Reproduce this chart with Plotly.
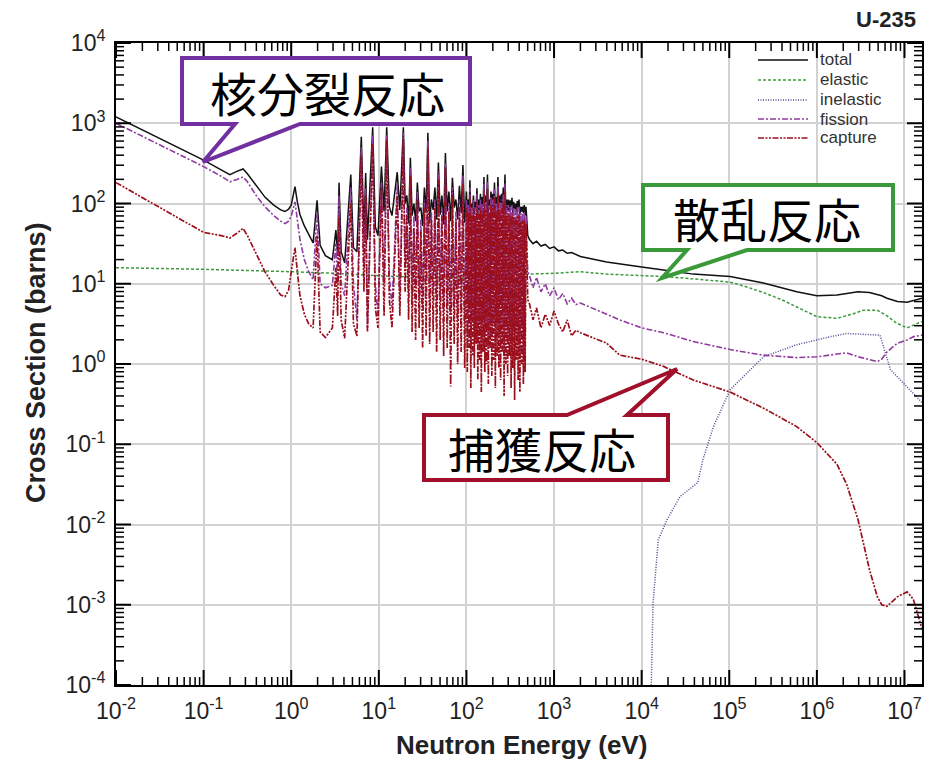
import math
import plotly.graph_objects as go

# ---------------- data ----------------
# energies as log10(E / eV), cross sections as log10(sigma / barns)
main_energy_log10 = [
    -2.00, -1.50, -1.00, -0.80, -0.70, -0.62, -0.55, -0.50, -0.40, -0.30,
    -0.20, -0.12, -0.07, -0.03, 0.00, 0.043, 0.07, 0.10, 0.15, 0.20,
    0.25, 0.295, 0.33, 0.39, 0.47, 0.51, 0.53, 0.546, 0.57, 0.61,
    0.68, 0.71, 0.75, 0.80, 0.83, 0.85, 0.87, 0.93, 0.96, 0.99,
    1.03, 1.06, 1.09, 1.12, 1.15, 1.21, 1.24, 1.28, 1.30,
    1.32, 1.34, 1.36, 1.38, 1.40, 1.42, 1.44, 1.46, 1.48, 1.50,
    1.52, 1.54, 1.56, 1.58, 1.60, 1.62, 1.64, 1.66, 1.68, 1.70,
    1.72, 1.74, 1.76, 1.78, 1.80, 1.82, 1.84, 1.86, 1.88, 1.90,
    1.92, 1.94, 1.96, 1.98,
    2.00, 2.01, 2.02, 2.03, 2.04, 2.05, 2.06, 2.07, 2.08, 2.09,
    2.10, 2.11, 2.12, 2.13, 2.14, 2.15, 2.16, 2.17, 2.18, 2.19,
    2.20, 2.21, 2.22, 2.23, 2.24, 2.25, 2.26, 2.27, 2.28, 2.29,
    2.30, 2.31, 2.32, 2.33, 2.34, 2.35, 2.36, 2.37, 2.38, 2.39,
    2.40, 2.41, 2.42, 2.43, 2.44, 2.45, 2.46, 2.47, 2.48, 2.49,
    2.50, 2.51, 2.52, 2.53, 2.54, 2.55, 2.56, 2.57, 2.58, 2.59,
    2.60, 2.61, 2.62, 2.63, 2.64, 2.65, 2.66, 2.67, 2.68,
    2.70, 2.72, 2.76, 2.80, 2.85, 2.90, 2.95, 3.00, 3.05, 3.10,
    3.15, 3.20, 3.25, 3.30, 3.60, 3.75, 4.00, 4.25, 4.59, 5.01,
    5.39, 5.77, 6.00, 6.23, 6.34, 6.47, 6.60, 6.69, 6.74, 6.80,
    6.92, 7.03, 7.10, 7.20,
]

total_log10 = [
    3.08, 2.81, 2.54, 2.42, 2.36, 2.40, 2.43, 2.37, 2.22, 2.08,
    1.98, 1.92, 1.90, 1.93, 1.98, 2.21, 2.02, 1.86, 1.72, 1.62,
    1.51, 2.04, 1.48, 1.35, 1.30, 1.67, 1.35, 2.26, 1.40, 1.26,
    2.36, 1.45, 1.40, 2.83, 1.63, 2.38, 1.55, 2.95, 1.71, 1.60,
    2.46, 1.90, 2.95, 1.96, 1.85, 2.39, 1.92, 2.95, 2.00,
    2.10, 1.75, 2.57, 1.85, 2.00, 1.78, 2.26, 1.90, 1.95, 1.72,
    2.20, 1.88, 2.88, 1.75, 2.05, 1.92, 2.20, 1.80, 2.51, 1.86,
    2.10, 1.74, 2.63, 1.90, 2.15, 1.78, 2.32, 1.95, 2.05, 1.80,
    2.22, 1.88, 2.48, 1.76,
    2.15, 1.85, 2.05, 1.90, 2.29, 1.82, 2.00, 1.93, 2.10, 1.86,
    2.02, 1.95, 2.19, 1.84, 2.05, 1.92, 2.12, 1.88, 2.08, 1.96,
    2.33, 1.85, 2.10, 1.94, 2.36, 1.87, 2.05, 1.97, 2.15, 1.86,
    2.12, 1.93, 2.26, 1.89, 2.08, 1.98, 2.33, 1.85, 2.10, 1.95,
    2.12, 1.88, 2.20, 1.97, 2.36, 1.86, 2.05, 1.92, 2.05, 1.90,
    2.04, 1.96, 2.07, 1.87, 2.02, 1.93, 2.00, 1.89, 2.03, 1.95,
    2.05, 1.86, 1.96, 1.90, 1.96, 1.88, 1.98, 1.85, 1.96,
    1.60, 1.55, 1.50, 1.53, 1.47, 1.49, 1.44, 1.46, 1.41, 1.42,
    1.38, 1.39, 1.36, 1.34, 1.27, 1.25, 1.21, 1.17, 1.12, 1.09,
    1.01, 0.90, 0.85, 0.86, 0.88, 0.90, 0.89, 0.87, 0.85, 0.82,
    0.78, 0.77, 0.79, 0.82,
]

fission_log10 = [
    3.00, 2.73, 2.46, 2.34, 2.27, 2.30, 2.33, 2.27, 2.10, 1.96,
    1.85, 1.78, 1.75, 1.78, 1.84, 2.02, 1.80, 1.55, 1.30, 1.15,
    1.05, 1.90, 1.00, 0.95, 0.98, 1.50, 1.00, 2.10, 1.00, 0.85,
    2.20, 1.00, 0.55, 2.70, 1.20, 2.20, 0.45, 2.85, 1.00, 0.60,
    2.30, 1.00, 2.85, 1.10, 0.70, 2.25, 0.80, 2.88, 1.20,
    1.95, 0.90, 2.45, 0.75, 1.85, 0.95, 2.15, 0.80, 1.80, 0.70,
    2.05, 0.85, 2.78, 0.75, 1.90, 0.90, 2.05, 0.70, 2.40, 0.80,
    1.95, 0.65, 2.50, 0.75, 2.00, 0.60, 2.20, 0.70, 1.90, 0.55,
    2.05, 0.65, 2.35, 0.50,
    2.05, 0.35, 1.98, 0.65, 2.20, 0.20, 1.95, 0.55, 2.05, 0.40,
    1.95, 0.70, 2.12, 0.25, 1.98, 0.50, 2.05, 0.15, 2.00, 0.60,
    2.25, 0.35, 2.02, 0.45, 2.28, 0.20, 1.98, 0.65, 2.08, 0.30,
    2.05, 0.50, 2.18, 0.15, 2.00, 0.55, 2.22, 0.40, 2.02, 0.25,
    2.05, 0.60, 2.12, 0.10, 2.25, 0.45, 1.98, 0.30, 1.98, 0.55,
    1.95, 0.15, 1.98, 0.40, 1.94, 0.05, 1.92, 0.50, 1.95, 0.25,
    1.96, 0.10, 1.88, 0.45, 1.88, 0.20, 1.90, 0.35, 1.85,
    1.15, 1.10, 0.95, 1.08, 0.90, 1.00, 0.85, 0.95, 0.80, 0.88,
    0.75, 0.82, 0.74, 0.76, 0.62, 0.55, 0.45, 0.39, 0.28, 0.18,
    0.11, 0.08, 0.09, 0.12, 0.14, 0.09, 0.05, 0.03, 0.06, 0.15,
    0.26, 0.30, 0.34, 0.36,
]

capture_log10 = [
    2.26, 1.95, 1.64, 1.60, 1.57, 1.63, 1.69, 1.60, 1.38, 1.15,
    0.98, 0.86, 0.84, 0.92, 1.15, 1.45, 1.15, 0.85, 0.62, 0.50,
    0.45, 1.60, 0.40, 0.33, 0.45, 1.20, 0.60, 1.85, 0.55, 0.32,
    2.00, 0.50, 0.35, 2.60, 0.90, 2.10, 0.40, 2.75, 0.70, 0.45,
    2.20, 0.60, 2.80, 0.80, 0.45, 2.10, 0.60, 2.80, 0.90,
    1.85, 0.55, 2.35, 0.40, 1.70, 0.30, 2.05, 0.45, 1.65, 0.20,
    1.95, 0.35, 2.70, 0.25, 1.80, 0.40, 1.95, 0.15, 2.30, 0.30,
    1.85, 0.10, 2.45, 0.20, 1.90, -0.28, 2.10, 0.25, 1.80, 0.00,
    1.95, 0.15, 2.25, -0.05,
    1.95, -0.10, 1.88, 0.20, 2.10, -0.30, 1.85, 0.10, 1.95, -0.05,
    1.85, 0.25, 2.02, -0.20, 1.88, 0.05, 1.95, -0.35, 1.90, 0.15,
    2.15, -0.10, 1.92, 0.00, 2.18, -0.25, 1.88, 0.20, 1.98, -0.15,
    1.95, 0.05, 2.08, -0.30, 1.90, 0.10, 2.12, -0.05, 1.92, -0.20,
    1.95, 0.15, 2.02, -0.40, 2.15, 0.00, 1.88, -0.15, 1.88, 0.10,
    1.85, -0.30, 1.88, -0.05, 1.84, -0.45, 1.82, 0.05, 1.85, -0.20,
    1.86, -0.35, 1.78, 0.00, 1.78, -0.25, 1.80, -0.10, 1.75,
    0.80, 0.75, 0.55, 0.70, 0.45, 0.62, 0.48, 0.66, 0.50, 0.40,
    0.55, 0.35, 0.42, 0.39, 0.26, 0.11, 0.06, -0.03, -0.20, -0.35,
    -0.55, -0.78, -0.98, -1.25, -1.50, -1.94, -2.56, -2.90, -3.00, -3.02,
    -2.90, -2.84, -2.93, -3.30,
]

elastic_energy_log10 = [
    -2.00, -1.00, 0.00, 0.50, 1.00, 1.50, 2.00, 2.69, 3.00, 3.30,
    3.60, 4.00, 4.25, 4.60, 5.01, 5.20, 5.39, 5.60, 5.77, 6.00,
    6.23, 6.40, 6.53, 6.69, 6.80, 6.91, 7.03, 7.20,
]
elastic_log10 = [
    1.20, 1.18, 1.15, 1.13, 1.10, 1.08, 1.07, 1.12, 1.13, 1.15,
    1.12, 1.10, 1.09, 1.06, 1.02, 0.96, 0.89, 0.80, 0.71, 0.59,
    0.57, 0.62, 0.67, 0.67, 0.60, 0.51, 0.45, 0.53,
]

inelastic_energy_log10 = [
    4.09, 4.13, 4.19, 4.29, 4.44, 4.64, 4.70, 4.82, 5.01, 5.39,
    5.77, 6.15, 6.34, 6.72, 6.84, 7.03, 7.20,
]
inelastic_log10 = [
    -5.00, -2.98, -2.19, -1.94, -1.65, -1.48, -1.19, -0.78, -0.32, 0.09,
    0.24, 0.34, 0.38, 0.36, -0.07, -0.28, -0.48,
]

series_names = ["total", "elastic", "inelastic", "fission", "capture"]
x_tick_exponents = [-2, -1, 0, 1, 2, 3, 4, 5, 6, 7]
y_tick_exponents = [-4, -3, -2, -1, 0, 1, 2, 3, 4]

callout_labels = ["核分裂反応", "散乱反応", "捕獲反応"]

assert len(main_energy_log10) == len(total_log10) == len(fission_log10) == len(capture_log10)

# ---------------- figure ----------------
W, H = 926, 773
ML, MR, MT, MB = 116, 4, 43, 88
PW, PH = W - ML - MR, H - MT - MB
FONT = "Liberation Sans, Arial, sans-serif"
X_RANGE = [-2, 7.2]
Y_RANGE = [-4, 4]


def pp(px, py):
    """pixel -> paper coordinates"""
    return (px - ML) / PW, (H - MB - py) / PH


def pw(v):
    return [10 ** e for e in v]


styles = {
    "total": dict(color="#111111", width=1.5, dash="solid"),
    "elastic": dict(color="#3c9a3c", width=1.5, dash="3px,2px"),
    "inelastic": dict(color="#4a4a92", width=1.5, dash="1px,1.5px"),
    "fission": dict(color="#8e3a9e", width=1.6, dash="6px,2px,2px,2px"),
    "capture": dict(color="#9b0f1c", width=1.7, dash="6px,1.5px,2px,1.5px,2px,1.5px"),
}
data = {
    "total": (main_energy_log10, total_log10),
    "elastic": (elastic_energy_log10, elastic_log10),
    "inelastic": (inelastic_energy_log10, inelastic_log10),
    "fission": (main_energy_log10, fission_log10),
    "capture": (main_energy_log10, capture_log10),
}

fig = go.Figure()
for name in series_names:
    ex, ey = data[name]
    fig.add_trace(go.Scatter(x=pw(ex), y=pw(ey), mode="lines", name=name,
                             line=styles[name], showlegend=False))

axis_common = dict(
    type="log", ticks="", showline=True, linecolor="black", linewidth=2,
    mirror=True, showgrid=True, gridcolor="#d2d2d2", gridwidth=1.5, zeroline=False,
    tickfont=dict(family=FONT, size=23, color="#222"), ticklabelstandoff=4,
    tickmode="array",
)

fig.update_layout(
    width=W, height=H,
    margin=dict(l=ML, r=MR, t=MT, b=MB, autoexpand=False),
    paper_bgcolor="white", plot_bgcolor="white",
    showlegend=False,
    xaxis=dict(range=X_RANGE, tickvals=pw(x_tick_exponents),
               ticktext=[f"10<sup>{e}</sup>" for e in x_tick_exponents], **axis_common),
    yaxis=dict(range=Y_RANGE, tickvals=pw(y_tick_exponents),
               ticktext=[f"10<sup>{e}</sup>" for e in y_tick_exponents], **axis_common),
)


# ----- inside tick marks on all four sides (major at decades, minor at 2..9) -----
def xfrac(v):
    return (math.log10(v) - X_RANGE[0]) / (X_RANGE[1] - X_RANGE[0])


def yfrac(v):
    return (math.log10(v) - Y_RANGE[0]) / (Y_RANGE[1] - Y_RANGE[0])


def tick_positions(d0, d1, lo, hi):
    out = []
    for d in range(d0, d1 + 1):
        for m in range(1, 10):
            v = m * 10.0 ** d
            if lo - 1e-9 <= math.log10(v) <= hi + 1e-9:
                out.append((v, m == 1))
    return out


def tick(x0, y0, x1, y1, major):
    fig.add_shape(type="line", xref="paper", yref="paper", x0=x0, y0=y0, x1=x1, y1=y1,
                  line=dict(color="black", width=2 if major else 1.5), layer="above")


for v, major in tick_positions(-2, 7, *X_RANGE):
    f = xfrac(v)
    ln = (15 if major else 8) / PH
    tick(f, 0, f, ln, major)
    tick(f, 1, f, 1 - ln, major)
for v, major in tick_positions(-4, 4, *Y_RANGE):
    f = yfrac(v)
    ln = (15 if major else 8) / PW
    tick(0, f, ln, f, major)
    tick(1, f, 1 - ln, f, major)


def text(label, px, py, size, color="#222", angle=0, anchor="center", family=FONT):
    x, y = pp(px, py)
    fig.add_annotation(text=label, xref="paper", yref="paper", x=x, y=y,
                       xanchor=anchor, yanchor="middle", showarrow=False,
                       textangle=angle, font=dict(family=family, size=size, color=color))


# legend (drawn by hand so that the row spacing matches)
legend_rows_py = [60, 80, 100, 119, 138]
for name, py in zip(series_names, legend_rows_py):
    x0, y0 = pp(758, py)
    x1, _ = pp(808, py)
    st = styles[name]
    fig.add_shape(type="line", xref="paper", yref="paper", x0=x0, x1=x1, y0=y0, y1=y0,
                  line=dict(color=st["color"], width=1.5, dash=st["dash"]))
    text(name, 818, py, 17, color="#333", anchor="left")

# axis titles and chart title
text("<b>Neutron Energy (eV)</b>", 521, 745, 26)
text("<b>Cross Section (barns)</b>", 36, 363, 27, angle=-90)
text("<b>U-235</b>", 886, 20, 22)


def path(points):
    s = ""
    for i, (px, py) in enumerate(points):
        x, y = pp(px, py)
        s += ("M" if i == 0 else "L") + f"{x:.5f},{y:.5f} "
    return s + "Z"


callouts = [
    # label, border colour, outline pixel points, text centre
    (callout_labels[0], "#7030a0",
     [(182, 58), (470, 58), (470, 124), (300, 124), (203, 162), (235, 124), (182, 124)],
     (327, 92)),
    (callout_labels[1], "#3a9a3a",
     [(643, 185), (893, 185), (893, 250), (747, 250), (662, 278), (687, 250), (643, 250)],
     (767, 217)),
    (callout_labels[2], "#a0102a",
     [(424, 415), (567, 415), (677, 369), (627, 415), (668, 415), (668, 480), (424, 480)],
     (542, 447)),
]
for label, col, pts, (tx, ty) in callouts:
    fig.add_shape(type="path", path=path(pts), xref="paper", yref="paper",
                  line=dict(color=col, width=4), fillcolor="white", layer="above")
    text(label, tx, ty, 47, color="black", family="Noto Sans CJK JP")

fig.write_html("out.html")
